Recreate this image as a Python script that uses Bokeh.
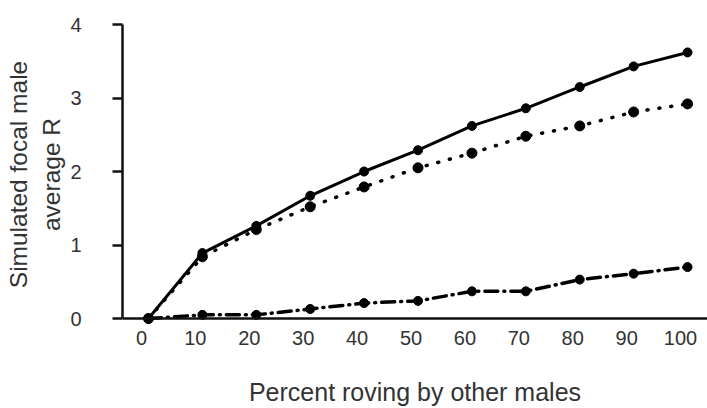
from bokeh.plotting import figure
from bokeh.models import Range1d, LinearAxis, FixedTicker, Span
from bokeh.embed import file_html
from bokeh.resources import INLINE

# Data
percent = [0, 10, 20, 30, 40, 50, 60, 70, 80, 90, 100]
solid_r = [0.0, 0.89, 1.26, 1.67, 2.00, 2.29, 2.62, 2.86, 3.15, 3.43, 3.62]
dotted_r = [0.0, 0.84, 1.21, 1.52, 1.79, 2.05, 2.25, 2.48, 2.62, 2.81, 2.92]
dashdot_r = [0.0, 0.05, 0.05, 0.13, 0.21, 0.24, 0.37, 0.37, 0.53, 0.61, 0.70]
x_ticks = [0, 10, 20, 30, 40, 50, 60, 70, 80, 90, 100]
y_ticks = [0, 1, 2, 3, 4]

FONT = "Liberation Sans"
TXT = "#333333"

x0, x1 = -4.82, 103.7
lab_shift = 1.3

p = figure(width=707, height=408, output_backend="svg", toolbar_location=None,
           x_range=Range1d(x0, x1), y_range=Range1d(-0.0813, 4.0),
           x_axis_location=None,
           min_border_left=122, min_border_right=0, min_border_top=24, min_border_bottom=83)
p.extra_x_ranges = {"lab": Range1d(x0 + lab_shift, x1 + lab_shift)}
p.outline_line_color = None
p.grid.visible = False
p.background_fill_color = "white"
p.border_fill_color = "white"

# x axis with labels only
xa = LinearAxis(x_range_name="lab", ticker=FixedTicker(ticks=x_ticks),
                axis_label="Percent roving by other males")
xa.axis_line_color = None
xa.major_tick_line_color = None
xa.minor_tick_line_color = None
xa.major_label_text_font = FONT
xa.major_label_text_font_size = "20px"
xa.major_label_text_color = TXT
xa.major_label_standoff = 0
xa.axis_label_text_font = FONT
xa.axis_label_text_font_size = "25px"
xa.axis_label_text_font_style = "normal"
xa.axis_label_text_color = TXT
xa.axis_label_standoff = 30
p.add_layout(xa, "below")

ya = p.yaxis[0]
ya.ticker = FixedTicker(ticks=y_ticks)
ya.bounds = (0, 4)
ya.axis_label = "Simulated focal male\naverage R"
ya.axis_line_width = 2.5
ya.axis_line_color = "#111111"
ya.major_tick_line_width = 2.5
ya.major_tick_line_color = "#111111"
ya.major_tick_out = 10
ya.major_tick_in = 0
ya.minor_tick_line_color = None
ya.major_label_text_font = FONT
ya.major_label_text_font_size = "20px"
ya.major_label_text_color = TXT
ya.major_label_standoff = 31
ya.axis_label_text_font = FONT
ya.axis_label_text_font_size = "24.5px"
ya.axis_label_text_font_style = "normal"
ya.axis_label_text_color = TXT
ya.axis_label_text_line_height = 1.25
ya.axis_label_standoff = 2

# x axis baseline at 0
p.add_layout(Span(location=0, dimension="width", line_color="#111111", line_width=2.5))

# Series
p.line(percent, solid_r, line_color="black", line_width=3)
p.scatter(percent, solid_r, size=9, color="black")

p.line(percent, dotted_r, line_color="black", line_width=3.5, line_dash="1 11", line_cap="round")
p.scatter(percent, dotted_r, size=10, color="black")

p.line(percent, dashdot_r, line_color="black", line_width=3.5, line_dash="13 6 1 6", line_cap="round")
p.scatter(percent, dashdot_r, size=9, color="black")

open("out.html", "w").write(file_html(p, INLINE))
